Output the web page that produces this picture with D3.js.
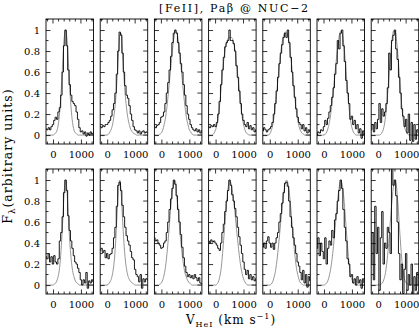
<!DOCTYPE html>
<html><head><meta charset="utf-8">
<script src="https://cdn.jsdelivr.net/npm/d3@7"></script>
<style>html,body{margin:0;padding:0;background:#fff;} svg{display:block;}</style>
</head><body>
<svg id="chart" width="419" height="330"></svg>
<script>
// Heliocentric velocity grid (km/s), shared by every panel
const velocity = [-250,-200,-150,-100,-50,0,50,100,150,200,250,300,350,400,450,500,550,600,650,700,750,800,850,900,950,1000,1050,1100,1150,1200,1250,1300,1350,1400,1450];

// Observed profiles, top row (7 apertures)
const dataTop = [
 [0.06,0.05,0.07,0.05,0.08,0.10,0.14,0.17,0.15,0.22,0.26,0.38,0.60,0.85,1.00,0.85,0.62,0.48,0.38,0.32,0.30,0.28,0.22,0.15,0.07,0.03,0.04,0.01,0.03,-0.01,0.02,0.00,0.03,0.01,0.02],
 [0.08,0.07,0.09,0.08,0.10,0.10,0.12,0.14,0.18,0.24,0.30,0.40,0.58,0.80,0.98,0.95,0.78,0.60,0.47,0.38,0.35,0.28,0.20,0.14,0.08,0.05,0.04,0.02,0.04,0.01,0.03,0.04,0.02,0.03,0.02],
 [0.08,0.07,0.09,0.10,0.12,0.17,0.18,0.22,0.30,0.40,0.50,0.62,0.75,0.88,0.97,1.00,0.97,0.88,0.78,0.68,0.60,0.48,0.38,0.28,0.20,0.15,0.10,0.07,0.05,0.04,0.06,0.03,0.05,0.02,0.04],
 [0.08,0.07,0.09,0.08,0.10,0.08,0.12,0.20,0.32,0.48,0.62,0.74,0.84,0.88,0.90,1.00,0.90,0.90,0.87,0.80,0.66,0.55,0.42,0.30,0.20,0.14,0.10,0.08,0.12,0.06,0.09,0.05,0.07,0.03,0.05],
 [0.04,0.07,0.05,0.03,0.05,0.06,0.08,0.12,0.20,0.30,0.42,0.55,0.68,0.78,0.86,0.93,0.97,0.93,1.00,0.88,0.74,0.60,0.47,0.36,0.25,0.17,0.12,0.10,0.06,0.10,0.04,0.07,0.02,0.05,0.03],
 [0.00,0.03,0.02,0.05,0.04,0.08,0.14,0.10,0.16,0.22,0.28,0.36,0.45,0.58,0.68,0.90,0.82,0.97,1.00,0.85,0.70,0.52,0.40,0.30,0.15,0.18,0.10,0.14,0.06,0.10,0.02,0.06,-0.03,0.04,0.00],
 [0.05,0.10,0.03,0.12,0.06,0.15,0.30,0.12,0.25,0.18,0.22,0.30,0.45,0.78,0.62,0.90,0.95,1.00,0.82,0.72,0.55,0.40,0.25,0.18,0.08,0.15,0.02,0.20,-0.05,0.12,-0.06,0.10,-0.04,0.05,0.02]
];
// Gaussian fits, top row
const fitTop = [
 [0,0,0,0,0,0,0.01,0.02,0.05,0.12,0.25,0.45,0.70,0.92,1.00,0.92,0.70,0.45,0.25,0.12,0.05,0.02,0.01,0,0,0,0,0,0,0,0,0,0,0,0],
 [0,0,0,0,0,0,0.01,0.03,0.06,0.11,0.20,0.33,0.52,0.75,0.95,0.97,0.78,0.55,0.37,0.24,0.15,0.09,0.05,0.03,0.015,0.01,0,0,0,0,0,0,0,0,0],
 [0,0,0,0,0.01,0.02,0.05,0.10,0.17,0.27,0.40,0.54,0.68,0.82,0.93,0.99,0.98,0.91,0.80,0.66,0.52,0.38,0.26,0.16,0.10,0.05,0.03,0.01,0,0,0,0,0,0,0],
 [0,0,0,0.005,0.02,0.05,0.10,0.18,0.30,0.45,0.60,0.73,0.83,0.89,0.92,0.93,0.93,0.92,0.88,0.80,0.68,0.55,0.42,0.29,0.18,0.10,0.05,0.02,0.01,0,0,0,0,0,0],
 [0,0,0,0,0,0.01,0.04,0.09,0.17,0.28,0.41,0.55,0.68,0.80,0.89,0.95,0.98,0.98,0.94,0.86,0.75,0.62,0.48,0.35,0.23,0.14,0.08,0.04,0.02,0.01,0,0,0,0,0],
 [0,0,0,0,0,0,0.01,0.03,0.07,0.13,0.22,0.33,0.46,0.60,0.74,0.86,0.95,0.99,0.97,0.88,0.74,0.57,0.40,0.25,0.14,0.07,0.03,0.01,0,0,0,0,0,0,0],
 [0,0,0,0,0,0,0,0.01,0.03,0.07,0.15,0.27,0.43,0.61,0.78,0.92,0.99,0.99,0.92,0.78,0.60,0.42,0.26,0.14,0.07,0.03,0.01,0,0,0,0,0,0,0,0]
];
// Observed profiles, bottom row
const dataBottom = [
 [0.27,0.25,0.30,0.22,0.27,0.20,0.28,0.22,0.20,0.25,0.42,0.50,0.65,0.88,1.00,0.90,0.66,0.52,0.42,0.35,0.28,0.22,0.20,0.16,0.12,0.05,0.00,0.05,0.02,0.12,-0.03,0.04,0.02,0.05,0.03],
 [0.33,0.35,0.31,0.33,0.26,0.30,0.25,0.29,0.30,0.35,0.45,0.55,0.75,0.95,0.98,0.90,0.76,0.65,0.55,0.47,0.42,0.38,0.32,0.26,0.24,0.15,0.10,0.08,0.03,0.10,-0.03,0.06,0.03,0.06,0.05],
 [0.45,0.42,0.43,0.40,0.38,0.35,0.36,0.40,0.42,0.50,0.60,0.72,0.82,0.92,1.00,0.96,0.85,0.72,0.60,0.48,0.36,0.26,0.18,0.12,0.08,0.10,0.07,0.09,0.06,0.10,0.07,0.04,0.07,0.02,0.01],
 [0.42,0.40,0.43,0.41,0.42,0.40,0.38,0.35,0.33,0.40,0.50,0.58,0.70,0.80,0.90,1.00,0.95,0.86,0.80,0.73,0.65,0.55,0.46,0.38,0.30,0.22,0.15,0.10,0.14,0.06,0.10,0.05,0.08,0.04,0.06],
 [0.36,0.40,0.35,0.42,0.46,0.40,0.36,0.40,0.34,0.40,0.45,0.50,0.60,0.68,0.78,0.88,0.97,0.98,0.94,0.80,0.65,0.55,0.45,0.38,0.30,0.22,0.18,0.12,0.05,0.14,0.02,0.10,-0.02,0.08,0.04],
 [0.35,0.45,0.28,0.40,0.32,0.25,0.45,0.20,0.35,0.42,0.38,0.52,0.45,0.62,0.68,0.80,0.90,1.00,0.92,0.72,0.55,0.42,0.25,0.20,0.08,0.10,0.02,0.06,0.00,0.08,0.02,0.05,-0.03,0.06,0.02],
 [0.20,0.50,0.05,0.75,0.30,0.55,-0.05,0.45,0.70,0.20,0.40,0.35,0.55,0.50,0.30,1.12,0.95,1.00,0.85,0.60,0.30,0.05,0.20,-0.08,0.15,0.30,-0.05,0.10,0.00,0.20,-0.10,0.08,-0.05,0.12,0.00]
];
// Gaussian fits, bottom row
const fitBottom = [
 [0,0,0,0,0,0,0.01,0.02,0.05,0.10,0.20,0.38,0.62,0.88,1.00,0.90,0.66,0.42,0.25,0.14,0.08,0.04,0.02,0.01,0,0,0,0,0,0,0,0,0,0,0],
 [0,0,0,0,0,0,0.01,0.03,0.06,0.12,0.22,0.40,0.65,0.90,1.00,0.88,0.63,0.40,0.24,0.14,0.08,0.05,0.03,0.02,0.01,0,0,0,0,0,0,0,0,0,0],
 [0,0,0,0,0.01,0.02,0.05,0.10,0.18,0.30,0.45,0.62,0.78,0.91,0.99,0.99,0.85,0.72,0.55,0.40,0.28,0.18,0.11,0.07,0.04,0.02,0.01,0,0,0,0,0,0,0,0],
 [0,0,0,0,0,0,0.01,0.03,0.08,0.16,0.30,0.47,0.65,0.80,0.93,0.99,0.97,0.90,0.80,0.67,0.53,0.40,0.28,0.18,0.11,0.06,0.03,0.01,0,0,0,0,0,0,0],
 [0,0,0,0,0,0,0.01,0.03,0.07,0.13,0.22,0.34,0.48,0.62,0.76,0.88,0.96,1.00,0.97,0.88,0.74,0.58,0.42,0.28,0.17,0.10,0.05,0.02,0.01,0,0,0,0,0,0],
 [0,0,0,0,0,0,0.01,0.02,0.05,0.10,0.17,0.27,0.40,0.55,0.70,0.84,0.94,0.99,0.96,0.86,0.70,0.52,0.35,0.20,0.10,0.05,0.02,0.01,0,0,0,0,0,0,0],
 [0,0,0,0,0,0,0,0.01,0.02,0.05,0.10,0.19,0.32,0.48,0.66,0.82,0.95,1.00,0.95,0.80,0.60,0.40,0.23,0.12,0.05,0.02,0.01,0,0,0,0,0,0,0,0]
];

const xTickLabels = [0, 1000];
const xMinorTicks = [-200,0,200,400,600,800,1000,1200,1400];
const yTickLabels = [0, 0.2, 0.4, 0.6, 0.8, 1];
const yMinorTicks = [0,0.1,0.2,0.3,0.4,0.5,0.6,0.7,0.8,0.9,1.0,1.1];

const titleText = "[FeII], Pa\u03B2 @ NUC\u22122";

const svg = d3.select("#chart");
const colLeft = 46, colPitch = 54.2, panelW = 47.5, panelH = 125;
const rowTops = [19, 169];
const fontFam = "'DejaVu Serif', 'Liberation Serif', serif";

const x = d3.scaleLinear().domain([-250, 1450]).range([0, panelW]);
const y = d3.scaleLinear().domain([-0.085, 1.105]).range([panelH, 0]);

const stepLine = d3.line().x((d, i) => x(velocity[i])).y(d => y(d)).curve(d3.curveStep);
const fitLine = d3.line().x((d, i) => x(velocity[i])).y(d => y(d)).curve(d3.curveMonotoneX);

const defs = svg.append("defs");
defs.append("clipPath").attr("id", "clip").append("rect")
  .attr("x", 0).attr("y", 0).attr("width", panelW).attr("height", panelH);

const rows = [[dataTop, fitTop], [dataBottom, fitBottom]];
const majorLen = 4.5, minorLen = 2.5;

rows.forEach(([dataRow, fitRow], r) => {
  dataRow.forEach((spec, c) => {
    const g = svg.append("g")
      .attr("transform", `translate(${colLeft + c * colPitch},${rowTops[r]})`);
    const plot = g.append("g").attr("clip-path", "url(#clip)");
    plot.append("path").attr("d", fitLine(fitRow[c]))
      .attr("fill", "none").attr("stroke", "#8a8a8a").attr("stroke-width", 0.9);
    plot.append("path").attr("d", stepLine(spec))
      .attr("fill", "none").attr("stroke", "#000").attr("stroke-width", 0.9);

    // minor ticks on all four sides
    const minorX = xMinorTicks.filter(v => !xTickLabels.includes(v));
    const minorY = yMinorTicks.filter(v => !yTickLabels.some(t => Math.abs(t - v) < 1e-9));
    const tk = g.append("g").attr("stroke", "#000").attr("stroke-width", 0.8);
    minorX.forEach(v => {
      tk.append("line").attr("x1", x(v)).attr("x2", x(v)).attr("y1", panelH).attr("y2", panelH - minorLen);
      tk.append("line").attr("x1", x(v)).attr("x2", x(v)).attr("y1", 0).attr("y2", minorLen);
    });
    xTickLabels.forEach(v => {
      tk.append("line").attr("x1", x(v)).attr("x2", x(v)).attr("y1", 0).attr("y2", majorLen);
    });
    minorY.forEach(v => {
      tk.append("line").attr("x1", 0).attr("x2", minorLen).attr("y1", y(v)).attr("y2", y(v));
      tk.append("line").attr("x1", panelW).attr("x2", panelW - minorLen).attr("y1", y(v)).attr("y2", y(v));
    });
    yTickLabels.forEach(v => {
      tk.append("line").attr("x1", panelW).attr("x2", panelW - majorLen).attr("y1", y(v)).attr("y2", y(v));
    });

    // bottom axis with labels
    const xa = g.append("g").attr("transform", `translate(0,${panelH})`)
      .call(d3.axisBottom(x).tickValues(xTickLabels).tickSize(-majorLen).tickPadding(7).tickFormat(d3.format("d")));
    xa.select(".domain").remove();
    xa.selectAll("text").attr("font-family", fontFam).attr("font-size", 10).attr("fill", "#000");
    xa.selectAll("line").attr("stroke-width", 0.8);

    // left axis (labels only in first column)
    const ya = g.append("g")
      .call(d3.axisLeft(y).tickValues(yTickLabels).tickSize(-majorLen).tickPadding(6)
        .tickFormat(c === 0 ? (d => d3.format("")(d)) : (() => "")));
    ya.select(".domain").remove();
    ya.selectAll("text").attr("font-family", fontFam).attr("font-size", 10).attr("fill", "#000");
    ya.selectAll("line").attr("stroke-width", 0.8);

    g.append("rect").attr("x", 0).attr("y", 0).attr("width", panelW).attr("height", panelH)
      .attr("fill", "none").attr("stroke", "#000").attr("stroke-width", 0.9);
  });
});

// title
svg.append("text").attr("x", 159).attr("y", 12)
  .attr("font-family", fontFam).attr("font-size", 11)
  .attr("textLength", 149).attr("lengthAdjust", "spacing")
  .text(titleText);

// y label
const yl = svg.append("text")
  .attr("transform", "translate(12,156) rotate(-90)")
  .attr("text-anchor", "middle")
  .attr("font-family", fontFam).attr("font-size", 12.5)
  .attr("letter-spacing", 1);
yl.append("tspan").text("F");
yl.append("tspan").attr("font-size", 8.5).attr("dy", 3).text("\u03BB");
yl.append("tspan").attr("dy", -3).text("(arbitrary units)");

// x label
const xl = svg.append("text")
  .attr("x", 231).attr("y", 324)
  .attr("text-anchor", "middle")
  .attr("font-family", fontFam).attr("font-size", 12)
  .attr("letter-spacing", 1);
xl.append("tspan").text("V");
xl.append("tspan").attr("font-size", 8).attr("dy", 3).text("HeI");
xl.append("tspan").attr("dy", -3).text(" (km s");
xl.append("tspan").attr("font-size", 8).attr("dy", -5).text("\u22121");
xl.append("tspan").attr("dy", 5).text(")");
</script>
</body></html>
